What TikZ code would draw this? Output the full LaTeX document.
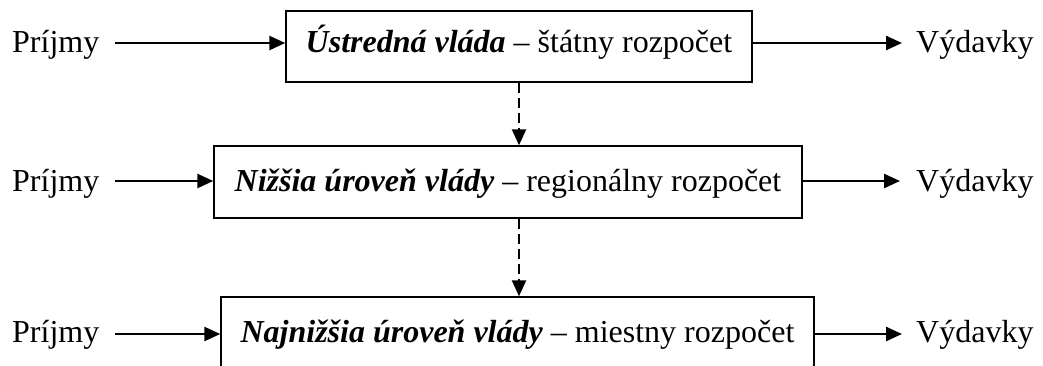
\documentclass[tikz,border=0pt]{standalone}
\usepackage{fontspec}
\setmainfont{Liberation Serif}
\usetikzlibrary{arrows.meta}
\tikzset{
  lvlbox/.style={draw, line width=1.4pt, inner sep=0pt, align=center, font=\fontsize{32}{38}\selectfont},
  lbl/.style={inner sep=0pt, anchor=base west, font=\fontsize{32}{38}\selectfont},
  flow/.style={line width=2.4pt, -{Triangle[length=16pt,width=14pt]}},
  down/.style={line width=2.4pt, dash pattern=on 10pt off 5pt, -{Triangle[length=16pt,width=14pt]}}
}
\begin{document}
\begin{tikzpicture}[x=1pt,y=-1pt]
\useasboundingbox (0,0) rectangle (1043,365);
% boxes
\node[lvlbox, minimum width=466pt, text height=41pt, text depth=30pt] (b1) at (519,46.5)
  {\textbf{\textit{Ústredná vláda}} – štátny rozpočet};
\node[lvlbox, minimum width=588pt, text height=45pt, text depth=27pt] (b2) at (508,182)
  {\textbf{\textit{Nižšia úroveň vlády}} – regionálny rozpočet};
\node[lvlbox, minimum width=593pt, text height=45pt, text depth=26pt] (b3) at (517.5,332.5)
  {\textbf{\textit{Najnižšia úroveň vlády}} – miestny rozpočet};
% labels
\node[lbl] (p1) at (12,52) {Príjmy};
\node[lbl] (p2) at (12,191) {Príjmy};
\node[lbl] (p3) at (12,342) {Príjmy};
\node[lbl] (v1) at (916,52) {Výdavky};
\node[lbl] (v2) at (916,191) {Výdavky};
\node[lbl] (v3) at (916,342) {Výdavky};
% connector ends
\coordinate (i1) at (115,43);
\coordinate (i2) at (115,181);
\coordinate (i3) at (115,334);
\coordinate (o1) at (902,43);
\coordinate (o2) at (900,181);
\coordinate (o3) at (902,334);
\draw[flow] (i1) -- (i1 -| b1.west);
\draw[flow] (i2) -- (i2 -| b2.west);
\draw[flow] (i3) -- (i3 -| b3.west);
\draw[flow] (o1 -| b1.east) -- (o1);
\draw[flow] (o2 -| b2.east) -- (o2);
\draw[flow] (o3 -| b3.east) -- (o3);
% dashed
\coordinate (d1) at (519,0);
\draw[down] (d1 |- b1.south) -- (d1 |- b2.north);
\draw[down] (d1 |- b2.south) -- (d1 |- b3.north);
\end{tikzpicture}
\end{document}
